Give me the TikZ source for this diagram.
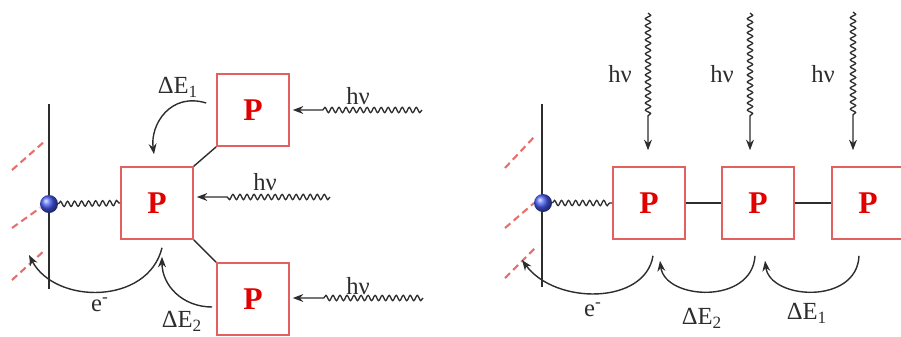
\documentclass[tikz,border=0pt]{standalone}
\usepackage{fontspec}
\setmainfont{Liberation Serif}
\usepackage{tikz}
\usetikzlibrary{arrows.meta, positioning, calc, decorations.pathmorphing, shadings}
\definecolor{BoxRed}{RGB}{226, 96, 96}
\definecolor{TextRed}{RGB}{225, 0, 0}
\definecolor{WallRed}{RGB}{232, 110, 110}
\definecolor{LineGray}{RGB}{45, 45, 45}
\definecolor{BallBlue}{RGB}{70, 90, 240}

\begin{document}
\begin{tikzpicture}[x=0.02cm, y=-0.02cm,
    pbox/.style={draw=BoxRed, line width=0.9pt, minimum size=1.44cm, inner sep=0pt,
      font=\fontsize{18}{18}\selectfont\bfseries, text=TextRed},
    ball/.style={circle, minimum size=0.36cm, inner sep=0pt, shading=ball, ball color=BallBlue},
    wave/.style={LineGray, line width=0.75pt, decorate,
      decoration={snake, amplitude=1.5pt, segment length=4pt}},
    link/.style={LineGray, line width=0.8pt},
    bent/.style={LineGray, line width=0.8pt, -{Stealth[length=6pt, width=4.5pt]}},
    wall/.style={LineGray, line width=0.9pt},
    dashwall/.style={WallRed, line width=1.2pt, dash pattern=on 4pt off 2.5pt},
    lbl/.style={font=\fontsize{14}{14}\selectfont, text=LineGray}]
    \clip (0,0) rectangle (901,336);

    % Superficie izquierda
    \draw[dashwall] (12,170) -- (45,141);
    \draw[dashwall] (12,228) -- (40,208);
    \draw[dashwall] (12,280) -- (45,250);
    \draw[wall] (49,104) -- (49,289);
    \node[ball] (sL) at (49,204) {};

    % Cajas izquierda
    \node[pbox] (pc) at (157,203) {P};
    \node[pbox] (pt) at (253,110) {P};
    \node[pbox] (pb) at (253,299) {P};
    \draw[link] (pc.north east) -- (pt.south west);
    \draw[link] (pc.south east) -- (pb.north west);
    \draw[wave] (sL.east) -- (pc.west);

    % Luz izquierda
    \coordinate (hv1) at (422,110);
    \coordinate (hv2) at (330,197);
    \coordinate (hv3) at (423,298);
    \draw[wave, -{Stealth[length=6pt, width=4.5pt]}, decoration={post length=0.55cm}]
      (hv1) -- ($(pt.east)+(3,0)$);
    \draw[wave, -{Stealth[length=6pt, width=4.5pt]}, decoration={post length=0.6cm}]
      (hv2) -- ($(hv2 -| pc.east)+(3,0)$);
    \draw[wave, -{Stealth[length=6pt, width=4.5pt]}, decoration={post length=0.55cm}]
      (hv3) -- ($(pb.east)+(3,-1)$);
    \node[lbl] at (358,96) {hν};
    \node[lbl] at (265,182) {hν};
    \node[lbl] at (358,286) {hν};

    % Transferencias izquierda
    \draw[bent] ($(pt.west)+(-10,-7)$) .. controls (170,92) and (150,125) .. ($(pc.north)+(-3,-12)$);
    \draw[bent] ($(pb.west)+(-4,8)$) .. controls (182,307) and (162,285) .. ($(pc.south)+(5,17)$);
    \draw[bent] ($(pc.south)+(5,8)$) .. controls (148,305) and (55,305) .. (29,255);
    \node[lbl] at (178,87) {ΔE\textsubscript{1}};
    \node[lbl] at (182,321) {ΔE\textsubscript{2}};
    \node[lbl] at (100,305) {e\textsuperscript{-}};

    % Superficie derecha
    \draw[dashwall] (505,168) -- (535,136);
    \draw[dashwall] (505,228) -- (534,203);
    \draw[dashwall] (505,278) -- (535,248);
    \draw[wall] (542,104) -- (542,287);
    \node[ball] (sR) at (543,203) {};

    % Cajas derecha
    \node[pbox] (q1) at (649,203) {P};
    \node[pbox] (q2) at (758,203) {P};
    \node[pbox] (q3) at (868,203) {P};
    \draw[link] (q1.east) -- (q2.west);
    \draw[link] (q2.east) -- (q3.west);
    \draw[wave] (sR.east) -- (q1.west);

    % Luz derecha
    \coordinate (u1) at (648,13);
    \coordinate (u2) at (750,13);
    \coordinate (u3) at (853,12);
    \foreach \u/\q in {u1/q1, u2/q2, u3/q3}
      \draw[wave, -{Stealth[length=6pt, width=4.5pt]}, decoration={post length=0.66cm}]
        (\u) -- ($(\u |- \q.north)+(0,-16)$);
    \node[lbl] at (620,74) {hν};
    \node[lbl] at (722,74) {hν};
    \node[lbl] at (823,74) {hν};

    % Transferencias derecha
    \draw[bent] ($(q1.south)+(4,16)$) .. controls (645,305) and (555,305) .. (522,260);
    \draw[bent] ($(q2.south)+(-3,16)$) .. controls (752,305) and (665,300) .. ($(q1.south)+(11,21)$);
    \draw[bent] ($(q3.south)+(-9,16)$) .. controls (857,305) and (770,300) .. ($(q2.south)+(7,21)$);
    \node[lbl] at (593,310) {e\textsuperscript{-}};
    \node[lbl] at (702,318) {ΔE\textsubscript{2}};
    \node[lbl] at (807,313) {ΔE\textsubscript{1}};
  \end{tikzpicture}
\end{document}
